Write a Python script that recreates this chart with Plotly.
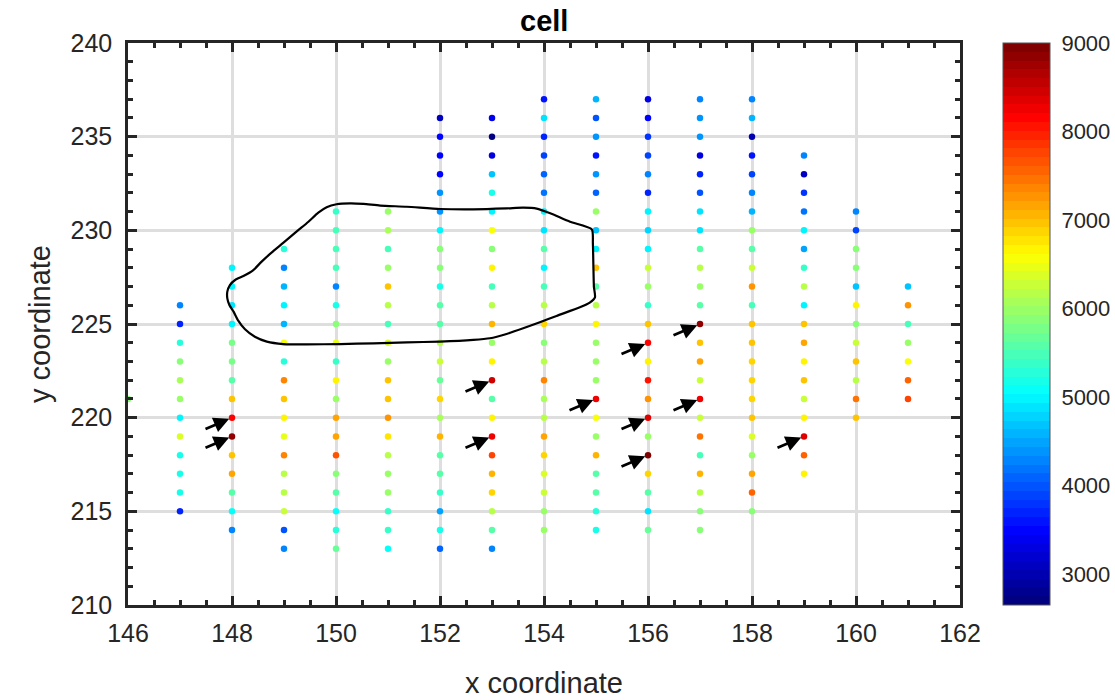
import plotly.graph_objects as go

# Grid columns (x) and the top-most y of each column; points run down in steps of 1
columns = [146, 147, 148, 149, 150, 151, 152, 153, 154, 155, 156, 157, 158, 159, 160, 161]
y_top = [221, 226, 228, 229, 231, 231, 236, 236, 237, 237, 237, 237, 237, 234, 231, 227]

# Measured values per column, listed from top to bottom
col_146 = [5900]
col_147 = [4300, 3700, 5300, 5900, 6100, 6000, 5000, 6400, 5200, 5150, 5200, 3700]
col_148 = [5000, 5000, 4900, 5000, 5800, 5800, 5600, 7000, 8200, 8850, 7000, 7200, 5600, 5050, 4250]
col_149 = [5300, 4300, 4550, 5000, 4550, 6550, 5300, 7350, 6950, 6650, 6500, 7400, 6150, 6150, 6300,
           4000, 4300]
col_150 = [5350, 5500, 5450, 5450, 4300, 5150, 5850, 6500, 5400, 6700, 5950, 7200, 7200, 7700, 5900,
           5600, 5050, 5300, 5700]
col_151 = [5950, 6100, 5500, 5950, 7000, 6200, 5450, 6400, 5950, 7000, 7000, 7250, 6750, 6200, 5950,
           5950, 5350, 5350, 5050]
col_152 = [3050, 3450, 3450, 3500, 4400, 4400, 4950, 5850, 5850, 5150, 5600, 5600, 6200, 6300, 5700,
           6900, 6100, 7100, 5600, 5600, 5350, 4500, 5200, 4100]
col_153 = [3350, 2700, 3300, 4650, 5200, 5000, 6550, 5850, 6650, 5500, 6150, 7100, 5950, 6700, 8500,
           5600, 6700, 8250, 7800, 7100, 6850, 6150, 5600, 4250]
col_154 = [3550, 4850, 3700, 3850, 4100, 4200, 4950, 4850, 5600, 5000, 5500, 6200, 6850, 5900, 6150,
           7350, 6050, 6200, 7200, 6850, 6400, 6300, 5950, 5950]
col_155 = [4600, 4000, 4400, 3550, 4400, 4100, 5950, 4650, 4950, 7000, 5600, 6200, 6650, 5950, 5950,
           5950, 8250, 6550, 5950, 7100, 5600, 5600, 5300, 5150]
col_156 = [3300, 3450, 3750, 3850, 4300, 3700, 5000, 4750, 5000, 6300, 5950, 5350, 6950, 8150, 6650,
           8100, 7250, 8400, 5950, 9000, 6850, 5600, 4850, 5700]
col_157 = [4250, 4400, 4400, 3300, 3700, 3950, 4850, 4850, 5600, 6200, 5950, 5600, 8850, 6950, 7200,
           6300, 8250, 6300, 7500, 5450, 7100, 6200, 5850, 5900]
col_158 = [4250, 4600, 2950, 3550, 3850, 4250, 4550, 5950, 5600, 6300, 7250, 5500, 6950, 6950, 6850,
           6850, 6850, 6950, 6400, 5950, 7200, 7600, 5850]
col_159 = [4250, 3100, 3750, 4200, 4950, 4500, 5350, 6200, 4950, 6950, 7200, 6700, 6950, 6300, 6700,
           8400, 7600, 6700]
col_160 = [4250, 3850, 5850, 5850, 4650, 6650, 5900, 6300, 6950, 6200, 7500, 6950]
col_161 = [4650, 7250, 5500, 5950, 6550, 7600, 7800]

column_values = [col_146, col_147, col_148, col_149, col_150, col_151, col_152, col_153,
                 col_154, col_155, col_156, col_157, col_158, col_159, col_160, col_161]

# Cell outline
outline_x = [148.06, 148.22, 148.41, 148.57, 148.76, 148.99, 149.24, 149.47, 149.66, 149.82,
             150.01, 150.27, 150.53, 150.85, 151.36, 152.00, 152.64, 153.28, 153.60, 153.86,
             154.12, 154.50, 154.92, 154.94, 154.95, 154.96, 154.98, 154.88, 154.69, 154.24,
             153.92, 153.60, 153.28, 152.96, 152.64, 152.00, 151.36, 150.72, 150.08, 149.44,
             148.99, 148.67, 148.44, 148.25, 148.12, 148.03, 147.95, 147.91, 147.91, 147.96,
             148.06]
outline_y = [227.35, 227.56, 227.88, 228.33, 228.81, 229.34, 229.93, 230.46, 230.94, 231.23,
             231.39, 231.44, 231.41, 231.32, 231.26, 231.14, 231.12, 231.17, 231.21, 231.16,
             230.91, 230.46, 230.05, 229.31, 228.06, 226.99, 226.42, 226.14, 225.89, 225.43,
             225.09, 224.77, 224.47, 224.24, 224.15, 224.06, 224.02, 223.97, 223.93, 223.91,
             223.93, 224.06, 224.32, 224.72, 225.18, 225.66, 226.01, 226.37, 226.73, 227.08,
             227.35]

# Highlighted high-value points
arrow_x = [148, 148, 153, 153, 155, 156, 156, 156, 157, 157, 159]
arrow_y = [220, 219, 222, 219, 221, 224, 220, 218, 225, 221, 219]

c_min, c_max = 2650, 9000
c_ticks = [3000, 4000, 5000, 6000, 7000, 8000, 9000]

# Flatten columns into point lists
px, py, pv = [], [], []
for xc, top, vals in zip(columns, y_top, column_values):
    for i, v in enumerate(vals):
        px.append(xc)
        py.append(top - i)
        pv.append(v)


def _clip(a):
    return max(0.0, min(1.0, a))


# 64-step jet colormap as a banded colorscale
n_levels = 64
jet = []
for i in range(n_levels):
    t = i / (n_levels - 1)
    r = _clip(min(4 * t - 1.5, -4 * t + 4.5))
    g = _clip(min(4 * t - 0.5, -4 * t + 3.5))
    b = _clip(min(4 * t + 0.5, -4 * t + 2.5))
    col = f"rgb({round(r * 255)},{round(g * 255)},{round(b * 255)})"
    jet.append([i / n_levels, col])
    jet.append([(i + 1) / n_levels, col])

ink = "#262626"
font_family = "Liberation Sans, Arial, sans-serif"

fig = go.Figure()

fig.add_trace(go.Scatter(
    x=px, y=py, mode="markers", cliponaxis=False,
    marker=dict(
        size=6.5, color=pv, colorscale=jet, cmin=c_min, cmax=c_max,
        line=dict(width=0),
        colorbar=dict(
            x=1.052, xanchor="left", xpad=0,
            y=0.5, yanchor="middle", ypad=0,
            len=1, lenmode="fraction",
            thickness=47, thicknessmode="pixels",
            outlinecolor="#555555", outlinewidth=1,
            tickvals=c_ticks, ticks="outside", ticklen=7, tickwidth=1,
            tickcolor="rgba(0,0,0,0)",
            tickfont=dict(family=font_family, size=22, color=ink),
        ),
    ),
    showlegend=False, hoverinfo="x+y+text", text=[str(v) for v in pv],
))

fig.add_trace(go.Scatter(
    x=outline_x, y=outline_y, mode="lines",
    line=dict(color="black", width=2.2, shape="spline", smoothing=0.6),
    showlegend=False, hoverinfo="skip",
))

for ax_, ay_ in zip(arrow_x, arrow_y):
    fig.add_annotation(
        x=ax_, y=ay_, xref="x", yref="y", text="",
        showarrow=True, arrowhead=2, arrowsize=1.15, arrowwidth=2.7, arrowcolor="black",
        ax=-28, ay=12, standoff=3,
    )

axis_common = dict(
    showline=True, linecolor=ink, linewidth=2.5, mirror="ticks",
    ticks="inside", ticklen=9, tickwidth=2.5, tickcolor=ink,
    showgrid=True, gridcolor="#dedede", gridwidth=2.5, zeroline=False,
    tickfont=dict(family=font_family, size=25, color=ink),
)

fig.update_xaxes(range=[146, 162], tick0=146, dtick=2, ticklabelstandoff=4,
                 minor=dict(ticks="inside", dtick=0.5, ticklen=5, tickwidth=2.5, tickcolor=ink,
                            showgrid=False),
                 **axis_common)
fig.update_yaxes(range=[210, 240], tick0=210, dtick=5, ticklabelstandoff=8,
                 minor=dict(ticks="inside", dtick=1, ticklen=5, tickwidth=2.5, tickcolor=ink,
                            showgrid=False),
                 **axis_common)

fig.add_annotation(text="x coordinate", xref="paper", yref="paper", x=0.5, y=0,
                   xanchor="center", yanchor="middle", yshift=-78, showarrow=False,
                   font=dict(family=font_family, size=29, color=ink))
fig.add_annotation(text="y coordinate", xref="paper", yref="paper", x=0, y=0.5,
                   xanchor="center", yanchor="middle", xshift=-88, textangle=-90,
                   showarrow=False, font=dict(family=font_family, size=29, color=ink))
fig.add_annotation(text="<b>cell</b>", xref="paper", yref="paper", x=0.5, y=1,
                   xanchor="center", yanchor="middle", yshift=22, showarrow=False,
                   font=dict(family=font_family, size=29, color="black"))

fig.update_layout(
    width=1115, height=700,
    margin=dict(l=128, r=155, t=43, b=95, autoexpand=False),
    paper_bgcolor="white", plot_bgcolor="white",
)

fig.write_html("out.html")
